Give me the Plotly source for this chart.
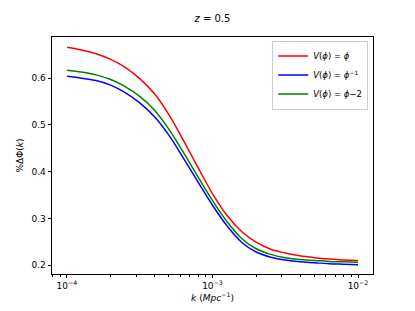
import plotly.graph_objects as go

log_k = [-4.0, -3.9, -3.8, -3.7, -3.6, -3.5, -3.4, -3.3, -3.2, -3.1, -3.0,
         -2.9, -2.8, -2.7, -2.6, -2.5, -2.4, -2.3, -2.2, -2.1, -2.0]
k = [10 ** v for v in log_k]

red_phi = [0.666, 0.660, 0.652, 0.640, 0.623, 0.599, 0.567, 0.522, 0.467, 0.409, 0.353,
           0.306, 0.272, 0.249, 0.234, 0.226, 0.220, 0.216, 0.213, 0.211, 0.210]
blue_phi_inv = [0.604, 0.600, 0.595, 0.585, 0.569, 0.547, 0.518, 0.478, 0.429, 0.378, 0.328,
                0.284, 0.249, 0.228, 0.217, 0.211, 0.207, 0.205, 0.203, 0.202, 0.201]
green_phi_m2 = [0.617, 0.613, 0.607, 0.597, 0.582, 0.561, 0.532, 0.491, 0.441, 0.389, 0.338,
                0.293, 0.257, 0.235, 0.223, 0.216, 0.212, 0.210, 0.208, 0.207, 0.206]

names = ["<i>V</i>(<i>ϕ</i>) = <i>ϕ</i>",
         "<i>V</i>(<i>ϕ</i>) = <i>ϕ</i><sup>−1</sup>",
         "<i>V</i>(<i>ϕ</i>) = <i>ϕ</i>−2"]
colors = ["#ff0000", "#0000ff", "#008000"]
series = [red_phi, blue_phi_inv, green_phi_m2]

x_tickvals = [1e-4, 1e-3, 1e-2]
x_ticktext = ["10<sup>−4</sup>", "10<sup>−3</sup>", "10<sup>−2</sup>"]
y_tickvals = [0.2, 0.3, 0.4, 0.5, 0.6]

minor_vals = []
for d in [1e-5, 1e-4, 1e-3, 1e-2]:
    for m in range(2, 10):
        minor_vals.append(m * d)

fig = go.Figure()
for ys, nm, c in zip(series, names, colors):
    fig.add_trace(go.Scatter(x=k, y=ys, mode="lines", name=nm,
                             line=dict(color=c, width=1.5, shape="spline", smoothing=1.0)))

font = "DejaVu Sans"
fig.update_layout(
    width=415, height=311,
    paper_bgcolor="white", plot_bgcolor="white",
    margin=dict(l=52, r=42, t=37, b=37, autoexpand=False),
    font=dict(family=font, size=9, color="black"),
    title=dict(text="<i>z</i> = 0.5", x=0.5, xref="paper", xanchor="center",
               y=1 - 18 / 311, yref="container", yanchor="middle", font=dict(size=10)),
    showlegend=True,
    legend=dict(x=0.985, y=0.985, xanchor="right", yanchor="top",
                bordercolor="#cccccc", borderwidth=1, bgcolor="rgba(255,255,255,0.8)",
                font=dict(size=8.5), tracegroupgap=0, itemwidth=30),
)
fig.update_xaxes(
    type="log", range=[-4.103, -1.897], automargin=False,
    tickvals=x_tickvals, ticktext=x_ticktext,
    ticks="outside", ticklen=3.5, tickwidth=0.8, tickcolor="black",
    showgrid=False, zeroline=False,
    showline=True, linecolor="black", linewidth=0.8, mirror=True,
    title=dict(text="<i>k</i> (<i>Mpc</i><sup>−1</sup>)", standoff=4, font=dict(size=9)),
    minor=dict(tickvals=minor_vals, ticks="outside", ticklen=2, tickwidth=0.6,
               tickcolor="black", showgrid=False),
)
fig.update_yaxes(
    range=[0.181, 0.688], automargin=False,
    tickvals=y_tickvals, tickformat=".1f",
    ticks="outside", ticklen=3.5, tickwidth=0.8, tickcolor="black",
    showgrid=False, zeroline=False,
    showline=True, linecolor="black", linewidth=0.8, mirror=True,
    title=dict(text="%ΔΦ(<i>k</i>)", standoff=6, font=dict(size=9)),
)

fig.write_html("out.html", config={"displayModeBar": False},
               post_script="document.body.style.margin='0';document.body.style.padding='0';")
